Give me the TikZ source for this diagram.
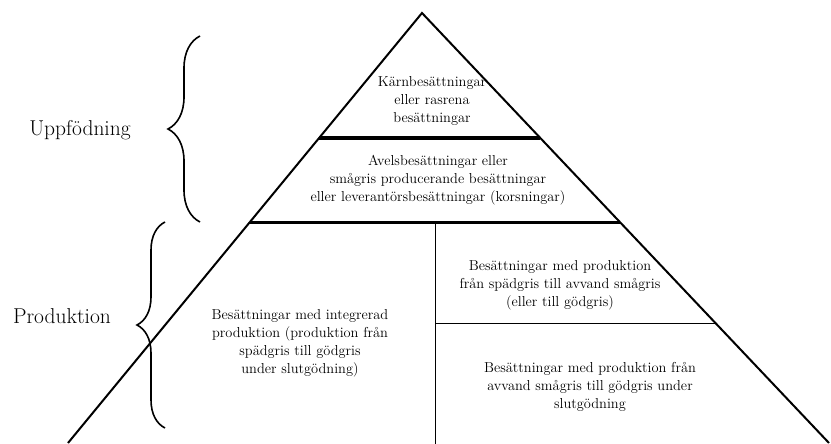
\documentclass[tikz,border=0pt]{standalone}
\usetikzlibrary{decorations.pathreplacing}

\begin{document}
\begin{tikzpicture}[x=1pt,y=-1pt,
    txt/.style={align=center,font=\fontsize{14.4}{18}\selectfont,inner sep=0pt},
    lbl/.style={font=\fontsize{21.5}{24}\selectfont,inner sep=0pt},
    brc/.style={decorate,line width=1.6pt}]
    \useasboundingbox (0,0) rectangle (831,444);

    \coordinate (apex) at (422,13);
    \coordinate (bl) at (68,443);
    \coordinate (br) at (829,443);
    \coordinate (t1) at (319,138);
    \coordinate (t2) at (540,138);
    \coordinate (p1) at (250,222);
    \coordinate (p2) at (620,222);
    \coordinate (v1) at (435,222);
    \coordinate (v2) at (435,444);
    \coordinate (m1) at (435,323);
    \coordinate (m2) at (715,323);

    \draw [line width=2pt] (bl) -- (apex) -- (br);
    \draw [line width=3pt] (t1) -- (t2);
    \draw [line width=3pt] (p1) -- (p2);
    \draw [line width=1pt] (v1) -- (v2);
    \draw [line width=1pt] (m1) -- (m2);

    \draw [brc,decoration={brace,amplitude=32pt}] (200,222) -- (200,36);
    \draw [brc,decoration={brace,amplitude=28pt}] (165,428) -- (165,222);

    \node [lbl] (upp) at (80,130) {Uppfödning};
    \node [lbl] (prod) at (62,316) {Produktion};

    \node [txt] (karn) at (432,101) {K\"arnbes\"attningar\\eller rasrena\\bes\"attningar};
    \node [txt] (avel) at (438,180) {Avelsbes\"attningar eller\\sm\aa gris producerande bes\"attningar\\eller leverant\"orsbes\"attningar (korsningar)};
    \node [txt] (integ) at (300,343) {Bes\"attningar med integrerad\\produktion (produktion fr\aa n\\sp\"adgris till g\"odgris\\under slutg\"odning)};
    \node [txt] (smag) at (560,285) {Bes\"attningar med produktion\\fr\aa n sp\"adgris till avvand sm\aa gris\\(eller till g\"odgris)};
    \node [txt] (slut) at (590,387) {Bes\"attningar med produktion fr\aa n\\avvand sm\aa gris till g\"odgris under\\slutg\"odning};
\end{tikzpicture}
\end{document}
